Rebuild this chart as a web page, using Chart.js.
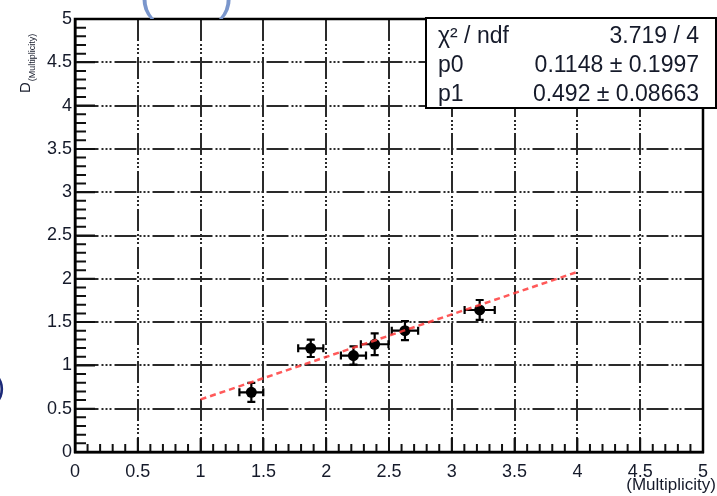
<!DOCTYPE html>
<html>
<head>
<meta charset="utf-8">
<script src="https://cdn.jsdelivr.net/npm/chart.js@4.4.0/dist/chart.umd.min.js"></script>
<style>
html, body { margin: 0; padding: 0; background: #fff; }
#wrap { width: 717px; height: 496px; }
</style>
</head>
<body>
<div id="wrap"><canvas id="fitChart"></canvas></div>
<script>
// measured points: multiplicity vs D
var multX = [1.404, 1.877, 2.217, 2.386, 2.627, 3.222];
var multXErr = [0.095, 0.10, 0.10, 0.11, 0.105, 0.12];
var dVal = [0.689, 1.197, 1.114, 1.244, 1.401, 1.640];
var dErr = [0.11, 0.10, 0.105, 0.125, 0.11, 0.115];

// fit line end points
var fitX = [1, 4];
var fitY = [0.607, 2.08];

// stats box
var statLabels = ["\u03C7\u00B2 / ndf", "p0", "p1"];
var statValues = ["3.719 / 4", "0.1148 \u00B1 0.1997", "0.492 \u00B1 0.08663"];

var FONT = "'Liberation Sans', Arial, Helvetica, sans-serif";
var INK = '#151a2a';

// error bars, behind the markers
var errorBars = {
    id: 'errorBars',
    beforeDatasetsDraw: function(chart) {
        var ctx = chart.ctx, xs = chart.scales.x, ys = chart.scales.y;
        ctx.save();
        ctx.strokeStyle = '#000';
        ctx.lineWidth = 2.2;
        for (var i = 0; i < multX.length; i++) {
            var cx = xs.getPixelForValue(multX[i]);
            var cy = ys.getPixelForValue(dVal[i]);
            var x0 = xs.getPixelForValue(multX[i] - multXErr[i]);
            var x1 = xs.getPixelForValue(multX[i] + multXErr[i]);
            var y0 = ys.getPixelForValue(dVal[i] - dErr[i]);
            var y1 = ys.getPixelForValue(dVal[i] + dErr[i]);
            ctx.beginPath();
            ctx.moveTo(x0, cy); ctx.lineTo(x1, cy);
            ctx.moveTo(cx, y0); ctx.lineTo(cx, y1);
            // caps
            ctx.moveTo(x0, cy - 4); ctx.lineTo(x0, cy + 4);
            ctx.moveTo(x1, cy - 4); ctx.lineTo(x1, cy + 4);
            ctx.moveTo(cx - 4, y0); ctx.lineTo(cx + 4, y0);
            ctx.moveTo(cx - 4, y1); ctx.lineTo(cx + 4, y1);
            ctx.stroke();
        }
        ctx.restore();
    }
};

// frame, inward ticks, stats box and the loose texts
var decorations = {
    id: 'decorations',
    afterDraw: function(chart) {
        var ctx = chart.ctx, a = chart.chartArea;
        var xs = chart.scales.x, ys = chart.scales.y;
        ctx.save();

        // ticks, minor every 0.1
        ctx.strokeStyle = '#111';
        ctx.lineWidth = 2;
        ctx.beginPath();
        for (var k = 0; k <= 50; k++) {
            var v = k / 10;
            var major = (k % 5 === 0);
            var py = ys.getPixelForValue(v);
            ctx.moveTo(a.left, py); ctx.lineTo(a.left + (major ? 20 : 11), py);
            var px = xs.getPixelForValue(v);
            ctx.moveTo(px, a.bottom); ctx.lineTo(px, a.bottom - (major ? 14 : 8));
        }
        ctx.stroke();

        // frame
        ctx.strokeStyle = '#000';
        ctx.lineWidth = 2.5;
        ctx.strokeRect(a.left, a.top, a.right - a.left, a.bottom - a.top);

        // stats box
        var bx = 426, by = 18, bw = 290, bh = 90;
        ctx.fillStyle = '#fff';
        ctx.fillRect(bx, by, bw, bh);
        ctx.lineWidth = 2;
        ctx.strokeRect(bx, by, bw, bh);
        ctx.fillStyle = INK;
        ctx.font = '23px ' + FONT;
        ctx.textBaseline = 'alphabetic';
        for (var i = 0; i < statLabels.length; i++) {
            var base = 43 + i * 29;
            ctx.textAlign = 'left';
            ctx.fillText(statLabels[i], 438, base);
            ctx.textAlign = 'right';
            ctx.fillText(statValues[i], 699, base);
        }

        // x axis title
        ctx.font = '17px ' + FONT;
        ctx.textAlign = 'right';
        ctx.textBaseline = 'middle';
        ctx.fillText('(Multiplicity)', 716, 485);

        // y axis title: D_(Multiplicity)
        ctx.save();
        ctx.translate(30, 93);
        ctx.rotate(-Math.PI / 2);
        ctx.textAlign = 'left';
        ctx.textBaseline = 'alphabetic';
        ctx.font = '15px ' + FONT;
        ctx.fillText('D', 0, 0);
        var dw = ctx.measureText('D').width;
        ctx.font = '9px ' + FONT;
        ctx.fillText('(Multiplicity)', dw + 1, 5);
        ctx.restore();

        // cut-off bits at the edges of the picture
        ctx.fillStyle = '#7a96cc';
        ctx.font = '200 44px ' + FONT;
        ctx.textAlign = 'center';
        ctx.textBaseline = 'alphabetic';
        ctx.fillText('(', 147, 10);
        ctx.fillText(')', 226, 10);
        ctx.fillStyle = '#1c2a78';
        ctx.font = '30px ' + FONT;
        ctx.textAlign = 'left';
        ctx.fillText(')', -5, 397);

        ctx.restore();
    }
};

var gridDash = [22, 3, 2, 2, 2, 2, 2, 3];
var tickText = function(v) { return String(Math.round(v * 10) / 10); };

var chart = new Chart(document.getElementById('fitChart'), {
    type: 'scatter',
    data: {
        datasets: [{
            // fit function, on top of the points
            type: 'line',
            order: 0,
            data: fitX.map(function(x, i) { return { x: x, y: fitY[i] }; }),
            borderColor: 'rgba(255, 60, 60, 0.85)',
            borderWidth: 2.5,
            borderDash: [6, 4],
            pointRadius: 0,
            fill: false
        }, {
            order: 1,
            data: multX.map(function(x, i) { return { x: x, y: dVal[i] }; }),
            backgroundColor: '#000',
            borderColor: '#000',
            pointRadius: 5.5,
            pointBorderWidth: 0
        }]
    },
    options: {
        responsive: true,
        maintainAspectRatio: false,
        animation: false,
        layout: { padding: { top: 19, right: 1, left: 0, bottom: 0 } },
        plugins: { legend: { display: false }, tooltip: { enabled: false } },
        scales: {
            x: {
                type: 'linear', min: 0, max: 5,
                afterFit: function(s) { s.height = 44; },
                ticks: { stepSize: 0.5, autoSkip: false, maxRotation: 0, padding: 9,
                         color: INK, callback: tickText,
                         font: { family: FONT, size: 18 } },
                grid: { color: '#2a2a2a', lineWidth: 2, drawTicks: false },
                border: { color: '#000', width: 2.5, dash: gridDash }
            },
            y: {
                type: 'linear', min: 0, max: 5,
                afterFit: function(s) { s.width = 75; },
                ticks: { stepSize: 0.5, autoSkip: false, padding: 3,
                         color: INK, callback: tickText,
                         font: { family: FONT, size: 18 } },
                grid: { color: '#2a2a2a', lineWidth: 2, drawTicks: false },
                border: { color: '#000', width: 2.5, dash: gridDash }
            }
        }
    },
    plugins: [errorBars, decorations]
});
</script>
</body>
</html>
